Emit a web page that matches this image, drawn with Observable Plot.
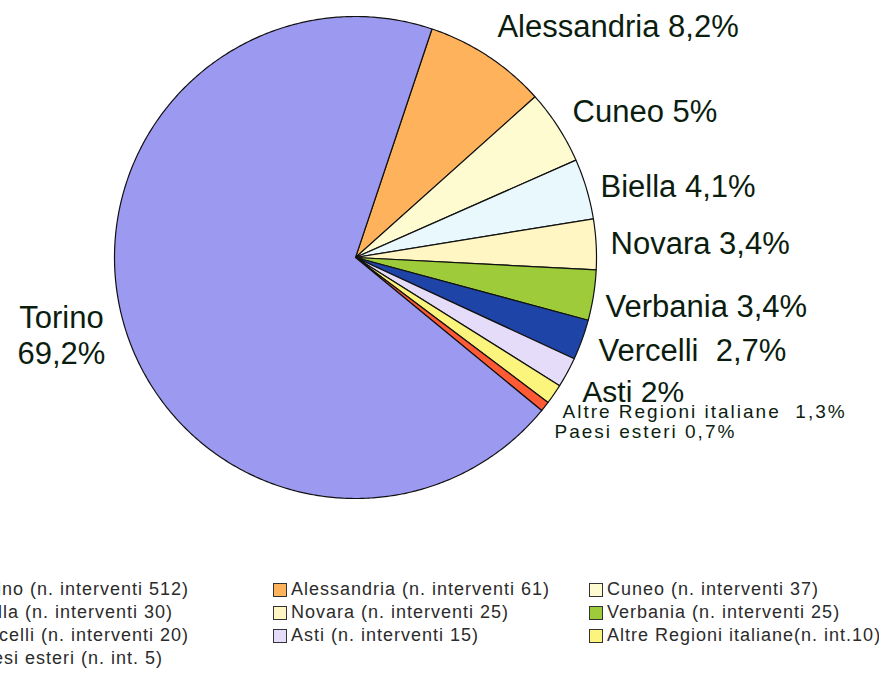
<!DOCTYPE html>
<html><head><meta charset="utf-8">
<script src="https://cdn.jsdelivr.net/npm/d3@7"></script>
<script src="https://cdn.jsdelivr.net/npm/@observablehq/plot@0.6"></script>
<style>
html,body{margin:0;padding:0;background:#fff;overflow:hidden;width:879px;height:673px;}
#chart svg{display:block;overflow:hidden;}
#chart svg text{white-space:pre;}
#legend{position:relative;height:95px;font-family:"Liberation Sans",Arial,sans-serif;font-size:18px;letter-spacing:1px;color:#2b2b2b;}
.item{position:absolute;white-space:pre;line-height:23px;height:23px;}
.sw{position:absolute;width:12px;height:12px;border:1px solid #333;top:5px;letter-spacing:0;}
</style></head><body>
<div id="chart"></div><div id="legend"></div>
<script>
// ---- data ----
const regions = ["Torino","Alessandria","Cuneo","Biella","Novara","Verbania","Vercelli","Asti","Altre Regioni italiane","Paesi esteri"];
const counts = [512,61,37,30,25,25,20,15,10,5];
const pctLabels = ["69,2%","8,2%","5%","4,1%","3,4%","3,4%"," 2,7%","2%"," 1,3%","0,7%"];
const legendLabels = ["Torino (n. interventi 512)","Alessandria (n. interventi 61)","Cuneo (n. interventi 37)",
  "Biella (n. interventi 30)","Novara (n. interventi 25)","Verbania (n. interventi 25)",
  "Vercelli (n. interventi 20)","Asti (n. interventi 15)","Altre Regioni italiane(n. int.10)",
  "Paesi esteri (n. int. 5)"];
const colors = ["#9c9af0","#ffb25c","#fffbd0","#e8f8fc","#fff6c4","#9dcb3a","#1e44a8","#e4dcf8","#fbf57e","#ff5a33"];

// ---- layout ----
const W = 879, H = 578, CX = 355, CY = 257, R = 241, START = 18.5 * Math.PI / 180;
// label nudges in px from the slice's outer mid-point (y down), font size
const labelLayout = [
  {dx:-62.4, dy:39.5, size:31}, {dx:9.5, dy:-18.7, size:31}, {dx:14.5, dy:-5.3, size:31},
  {dx:14, dy:7.6, size:31}, {dx:14.4, dy:10.2, size:31}, {dx:12, dy:21.3, size:31},
  {dx:16.5, dy:21.7, size:31}, {dx:15, dy:30, size:30}, {dx:8.5, dy:24.3, size:19},
  {dx:9.6, dy:31, size:19}
];

const data = regions.map((name, i) => ({name, count: counts[i], i}));
// Torino drawn last (clockwise from the first slice after it)
const ordered = [...data.slice(1), data[0]];
const arcs = d3.pie().sort(null).value(d => d.count).startAngle(START).endAngle(START + 2 * Math.PI)(ordered);

const piePts = [];
for (const a of arcs) {
  piePts.push({name: a.data.name, x: 0, y: 0});
  const n = Math.max(2, Math.ceil((a.endAngle - a.startAngle) / 0.01));
  for (let k = 0; k <= n; k++) {
    const t = a.startAngle + (a.endAngle - a.startAngle) * k / n;
    piePts.push({name: a.data.name, x: Math.sin(t), y: Math.cos(t)});
  }
}
const labels = arcs.map(a => {
  const i = a.data.i, m = (a.startAngle + a.endAngle) / 2, L = labelLayout[i];
  return {
    name: a.data.name, i, size: L.size,
    text: a.data.name + (i === 0 ? "\n" : " ") + pctLabels[i],
    x: Math.sin(m) + L.dx / R, y: Math.cos(m) - L.dy / R
  };
});

const font = "Liberation Sans, Arial, sans-serif";
const ink = "#0b1d0f";
const plot = Plot.plot({
  width: W, height: H, margin: 0,
  x: {domain: [-1, 1], range: [CX - R, CX + R], axis: null},
  y: {domain: [-1, 1], range: [CY + R, CY - R], axis: null},
  color: {domain: regions, range: colors},
  style: {background: "#fff", fontFamily: font},
  marks: [
    Plot.line(piePts, {x: "x", y: "y", z: "name", fill: "name", stroke: "#111", strokeWidth: 1.2, curve: "linear-closed", strokeLinejoin: "round"}),
    Plot.text(labels.filter(d => d.i > 0 && d.i < 8), {x: "x", y: "y", text: "text", fontSize: "size", textAnchor: "start", lineAnchor: "bottom", fill: ink, fontFamily: font}),
    Plot.text(labels.filter(d => d.i >= 8), {x: "x", y: "y", text: "text", fontSize: "size", textAnchor: "start", lineAnchor: "bottom", fill: ink, fontFamily: font}),
    Plot.text(labels.filter(d => d.i === 0), {x: "x", y: "y", text: "text", fontSize: 31, textAnchor: "middle", lineAnchor: "bottom", lineHeight: 1.16, fill: ink, fontFamily: font})
  ]
});
const tg = plot.querySelectorAll('g[aria-label="text"]');
if (tg[1]) tg[1].setAttribute("letter-spacing", "2");
document.getElementById("chart").appendChild(plot);

// legend
const colX = [-31, 291, 607];
const leg = document.getElementById("legend");
legendLabels.forEach((lab, i) => {
  const col = i % 3, row = Math.floor(i / 3);
  const it = document.createElement("div");
  it.className = "item";
  it.style.left = (colX[col] - 18) + "px";
  it.style.top = (row * 23) + "px";
  it.style.paddingLeft = "18px";
  const sw = document.createElement("span");
  sw.className = "sw";
  sw.style.left = "0px";
  sw.style.background = colors[i];
  it.appendChild(sw);
  it.appendChild(document.createTextNode(lab));
  leg.appendChild(it);
});
</script>
</body></html>
